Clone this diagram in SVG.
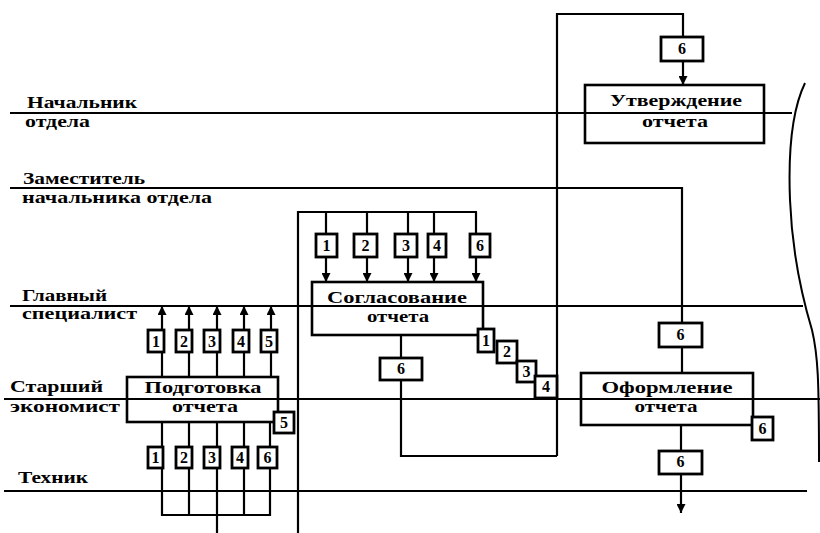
<svg xmlns="http://www.w3.org/2000/svg" width="820" height="533" viewBox="0 0 820 533">
<defs>
<style>
.lane{stroke:#000;stroke-width:2;fill:none}
.con{stroke:#000;stroke-width:2.2;fill:none}
.proc{stroke:#000;stroke-width:2.6;fill:none}
.tag{stroke:#000;stroke-width:2.8;fill:#fff}
.lbl{font-family:"Liberation Serif","Times New Roman",serif;font-weight:bold;font-size:16px;fill:#000}
.ptx{font-family:"Liberation Serif","Times New Roman",serif;font-weight:bold;font-size:16px;fill:#000;text-anchor:middle}
.num{font-family:"Liberation Serif","Times New Roman",serif;font-weight:bold;font-size:16px;fill:#000;text-anchor:middle}
</style>
<marker id="ah" viewBox="0 0 10 10" refX="10" refY="5" markerWidth="9" markerHeight="9" markerUnits="userSpaceOnUse" orient="auto">
<path d="M0,0 L10,5 L0,10 z" fill="#000"/>
</marker>
</defs>
<rect width="820" height="533" fill="#fff"/>

<g id="lanes">
<line class="lane" x1="10" y1="113" x2="792" y2="113"/>
<line class="lane" x1="10" y1="306" x2="803" y2="306"/>
<line class="lane" x1="4" y1="399" x2="820" y2="399"/>
<line class="lane" x1="4" y1="491" x2="807" y2="491"/>
<path class="lane" d="M805,83 C792,110 788,150 790,200 C792,250 800,290 812,330 C818,355 819,380 819,462"/>
</g>

<g id="lane-labels">
<text class="lbl" x="27" y="108" textLength="110" lengthAdjust="spacingAndGlyphs">Начальник</text>
<text class="lbl" x="25" y="127" textLength="65" lengthAdjust="spacingAndGlyphs">отдела</text>
<text class="lbl" x="23" y="184" textLength="122" lengthAdjust="spacingAndGlyphs">Заместитель</text>
<text class="lbl" x="22" y="203" textLength="190" lengthAdjust="spacingAndGlyphs">начальника отдела</text>
<text class="lbl" x="22" y="301" textLength="85" lengthAdjust="spacingAndGlyphs">Главный</text>
<text class="lbl" x="22" y="319" textLength="115" lengthAdjust="spacingAndGlyphs">специалист</text>
<text class="lbl" x="10" y="392" textLength="93" lengthAdjust="spacingAndGlyphs">Старший</text>
<text class="lbl" x="10" y="412" textLength="110" lengthAdjust="spacingAndGlyphs">экономист</text>
<text class="lbl" x="18" y="483" textLength="70" lengthAdjust="spacingAndGlyphs">Техник</text>
</g>

<g id="connectors">
<path class="con" d="M10,188 H682 V373"/>
<path class="con" d="M681,425 V513" marker-end="url(#ah)"/>
<path class="con" d="M557,456 V14 H683 V85" marker-end="url(#ah)"/>
<path class="con" d="M401,335 V456 H557"/>
<path class="con" d="M298,533 V212 H477"/>
<path class="con" d="M326,212 V282" marker-end="url(#ah)"/>
<path class="con" d="M367,212 V282" marker-end="url(#ah)"/>
<path class="con" d="M408,212 V282" marker-end="url(#ah)"/>
<path class="con" d="M434,212 V282" marker-end="url(#ah)"/>
<path class="con" d="M476,212 V282" marker-end="url(#ah)"/>
<path class="con" d="M162,377 V306" marker-end="url(#ah)"/>
<path class="con" d="M189,377 V306" marker-end="url(#ah)"/>
<path class="con" d="M217,377 V306" marker-end="url(#ah)"/>
<path class="con" d="M244,377 V306" marker-end="url(#ah)"/>
<path class="con" d="M271,377 V306" marker-end="url(#ah)"/>
<path class="con" d="M162,422 V515 H270 V422 M189,422 V515 M217,422 V533 M244,422 V515"/>
</g>

<g id="node-podgotovka">
<rect class="proc" x="127" y="377" width="151" height="45"/>
<text class="ptx" x="203" y="393" textLength="117" lengthAdjust="spacingAndGlyphs">Подготовка</text>
<text class="ptx" x="205" y="412" textLength="66" lengthAdjust="spacingAndGlyphs">отчета</text>
</g>

<g id="node-soglasovanie">
<rect class="proc" x="312" y="282" width="171" height="53"/>
<text class="ptx" x="397" y="303" textLength="140" lengthAdjust="spacingAndGlyphs">Согласование</text>
<text class="ptx" x="398" y="322" textLength="62" lengthAdjust="spacingAndGlyphs">отчета</text>
</g>

<g id="node-utverzhdenie">
<rect class="proc" x="585" y="85" width="179" height="58"/>
<text class="ptx" x="676" y="106" textLength="132" lengthAdjust="spacingAndGlyphs">Утверждение</text>
<text class="ptx" x="675" y="127" textLength="66" lengthAdjust="spacingAndGlyphs">отчета</text>
</g>

<g id="node-oformlenie">
<rect class="proc" x="581" y="373" width="172" height="52"/>
<text class="ptx" x="667" y="393" textLength="131" lengthAdjust="spacingAndGlyphs">Оформление</text>
<text class="ptx" x="666" y="412" textLength="63" lengthAdjust="spacingAndGlyphs">отчета</text>
</g>

<g id="tags-podgotovka-out">
<rect class="tag" x="148" y="330" width="16" height="22"/><text class="num" x="156" y="347">1</text>
<rect class="tag" x="176" y="330" width="16" height="22"/><text class="num" x="184" y="347">2</text>
<rect class="tag" x="204" y="330" width="16" height="22"/><text class="num" x="212" y="347">3</text>
<rect class="tag" x="233" y="330" width="16" height="22"/><text class="num" x="241" y="347">4</text>
<rect class="tag" x="261" y="330" width="16" height="22"/><text class="num" x="269" y="347">5</text>
</g>

<g id="tags-podgotovka-in">
<rect class="tag" x="148" y="447" width="15" height="21"/><text class="num" x="155.5" y="463">1</text>
<rect class="tag" x="176" y="447" width="16" height="21"/><text class="num" x="184" y="463">2</text>
<rect class="tag" x="204" y="447" width="16" height="21"/><text class="num" x="212" y="463">3</text>
<rect class="tag" x="232" y="447" width="16" height="21"/><text class="num" x="240" y="463">4</text>
<rect class="tag" x="258" y="447" width="19" height="21"/><text class="num" x="267.5" y="463">6</text>
</g>

<g id="tag-podgotovka-5">
<rect class="tag" x="274" y="412" width="20" height="21"/><text class="num" x="284" y="428">5</text>
</g>

<g id="tags-soglasovanie-in">
<rect class="tag" x="316" y="234" width="21" height="23"/><text class="num" x="326.5" y="251">1</text>
<rect class="tag" x="354" y="234" width="23" height="23"/><text class="num" x="365.5" y="251">2</text>
<rect class="tag" x="395" y="234" width="22" height="23"/><text class="num" x="406" y="251">3</text>
<rect class="tag" x="428" y="234" width="18" height="23"/><text class="num" x="437" y="251">4</text>
<rect class="tag" x="470" y="234" width="20" height="23"/><text class="num" x="480" y="251">6</text>
</g>

<g id="tags-soglasovanie-out">
<rect class="tag" x="478" y="329" width="16" height="23"/><text class="num" x="486" y="346">1</text>
<rect class="tag" x="497" y="341" width="20" height="22"/><text class="num" x="507" y="357">2</text>
<rect class="tag" x="517" y="361" width="19" height="21"/><text class="num" x="526.5" y="377">3</text>
<rect class="tag" x="535" y="376" width="22" height="22"/><text class="num" x="546" y="392">4</text>
<rect class="tag" x="380" y="358" width="42" height="22"/><text class="num" x="401" y="374">6</text>
</g>

<g id="tag-utverzhdenie-in">
<rect class="tag" x="661" y="37" width="42" height="24"/><text class="num" x="682" y="54">6</text>
</g>

<g id="tags-oformlenie">
<rect class="tag" x="659" y="323" width="43" height="24"/><text class="num" x="680.5" y="340">6</text>
<rect class="tag" x="659" y="451" width="43" height="23"/><text class="num" x="680.5" y="467">6</text>
<rect class="tag" x="752" y="417" width="21" height="23"/><text class="num" x="762.5" y="434">6</text>
</g>
</svg>
